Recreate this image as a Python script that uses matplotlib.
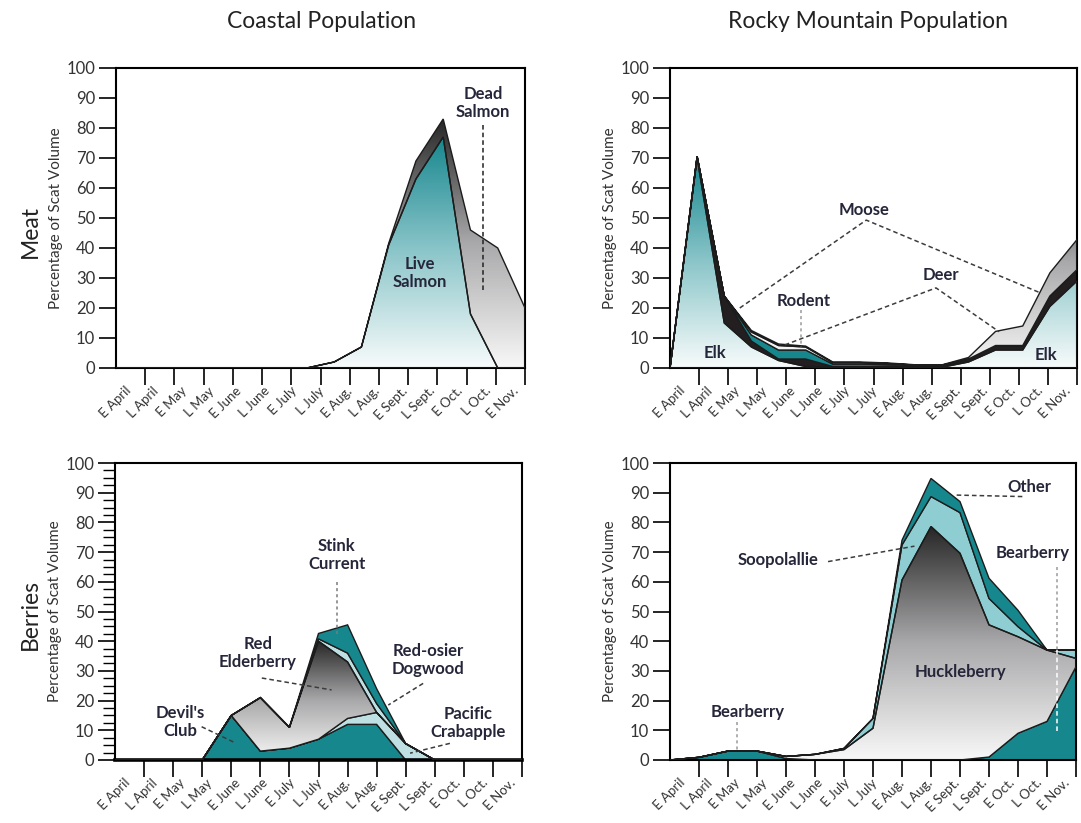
import numpy as np
import matplotlib
matplotlib.use('Agg')
import matplotlib.pyplot as plt
from matplotlib.patches import Polygon
from matplotlib.colors import LinearSegmentedColormap

plt.rcParams['font.family'] = 'Lato'

# Categorias (quinzenas)
months = ['E April', 'L April', 'E May', 'L May', 'E June', 'L June', 'E July',
          'L July', 'E Aug.', 'L Aug.', 'E Sept.', 'L Sept.', 'E Oct.', 'L Oct.', 'E Nov.']

# Costeira - carne (16 pontos no desenho original)
live_salmon = [0, 0, 0, 0, 0, 0, 0, 0, 2, 7, 41, 63, 77, 18, 0, 0]
dead_salmon = [0, 0, 0, 0, 0, 0, 0, 0, 0, 0, 0.5, 6, 6, 28, 40, 20]

# Montanhas Rochosas - carne
elk    = [0, 70, 15, 7, 2.5, 0.5, 0.3, 0.3, 0.3, 0.2, 0.2, 2, 6, 6, 20.5, 29]
moose  = [0, 0.5, 9, 2, 0.5, 2.5, 0.2, 0.2, 0.2, 0.2, 0.2, 1, 1.5, 1.5, 3.5, 3.8]
other_meat = [0, 0, 0, 2, 3, 3, 0.8, 0.8, 0.6, 0.4, 0.3, 0, 0, 0, 0, 0]
rodent = [0, 0, 0, 1, 1.5, 1, 0.5, 0.5, 0.4, 0.2, 0.2, 0, 0, 0, 0, 0]
deer   = [0, 0, 0, 0.5, 0.5, 0.3, 0.2, 0.2, 0.2, 0.1, 0.1, 0.5, 4.7, 6.5, 7.7, 10]

# Costeira - frutos
devils_club   = [0, 0, 0, 0, 15, 3, 4, 7, 12, 12, 0, 0, 0, 0, 0]
crabapple     = [0, 0, 0, 0, 0, 0, 0, 0, 2, 4, 5.5, 0, 0, 0, 0]
elderberry    = [0, 0, 0, 0, 0, 18, 7, 33, 19, 0, 0, 0, 0, 0, 0]
dogwood       = [0, 0, 0, 0, 0, 0, 0, 0.8, 3, 3, 0, 0, 0, 0, 0]
stink_currant = [0, 0, 0, 0, 0, 0, 0, 1.8, 9.5, 5, 0, 0, 0, 0, 0]

# Montanhas Rochosas - frutos
bearberry   = [0, 0.9, 3, 3, 0.5, 0, 0, 0, 0, 0, 0, 1, 9, 13, 31.4]
huckleberry = [0, 0, 0, 0, 0.7, 1.9, 3.5, 10.7, 60.6, 78.6, 69.6, 44.5, 32.5, 24, 2.8]
soopolallie = [0, 0, 0, 0, 0, 0, 0.4, 3.3, 11.8, 10.1, 13.7, 8.9, 3.4, 0, 2.8]
other_berry = [0, 0, 0, 0, 0, 0, 0, 0, 1.6, 6.1, 3.7, 6.8, 5.5, 0, 0]

TEAL = '#17878e'
LBLUE = '#8ecdd2'
PALE = '#bfe0e3'
BLACK = '#231f20'
NAVY = '#26263a'
teal_grad = LinearSegmentedColormap.from_list('tg', ['#f8fbfb', '#8cc6ca', TEAL])
gray_grad = LinearSegmentedColormap.from_list('gg', ['#f8f8f8', '#a9a9ab', '#262626'])


def layer(ax, x, lo, hi, fill):
    verts = np.column_stack([np.r_[x, x[::-1]], np.r_[hi, lo[::-1]]])
    if isinstance(fill, str):
        ax.add_patch(Polygon(verts, closed=True, fc=fill, ec='#1c1c1c', lw=1.0, zorder=2))
    else:
        poly = Polygon(verts, closed=True, fc='none', ec='#1c1c1c', lw=1.0, zorder=3)
        ax.add_patch(poly)
        grad = np.linspace(0, 1, 256).reshape(-1, 1)
        im = ax.imshow(grad, extent=(x[0], x[-1], 0, hi.max()), origin='lower',
                       aspect='auto', cmap=fill, zorder=2, interpolation='bilinear')
        im.set_clip_path(poly)


def stack(ax, x, series, fills):
    lo = np.zeros(len(x))
    for s, f in zip(series, fills):
        hi = lo + np.array(s, dtype=float)
        layer(ax, x, lo, hi, f)
        lo = hi


def setup(ax, minor_y=False):
    ax.set_xlim(0, 14)
    ax.set_ylim(0, 100)
    ax.set_yticks(range(0, 101, 10))
    ax.set_xticks(np.linspace(0.45, 13.7, 15))
    ax.set_xticklabels(months, rotation=45, ha='right', va='center',
                       rotation_mode='anchor', fontsize=9.5, color='#333333')
    ax.set_xticks(np.arange(1, 15), minor=True)
    ax.tick_params(axis='x', which='major', length=0, pad=15)
    ax.tick_params(axis='x', which='minor', length=12, width=1.2)
    ax.tick_params(axis='y', which='major', length=12, width=1.2, labelsize=12,
                   labelcolor='#333333', pad=3)
    if minor_y:
        ax.set_yticks(np.arange(0, 100, 2.5), minor=True)
        ax.tick_params(axis='y', which='minor', length=9, width=1.0)
        ax.spines['bottom'].set_linewidth(2.6)
    for sp in ['left', 'top', 'right']:
        ax.spines[sp].set_linewidth(1.5)
    if not minor_y:
        ax.spines['bottom'].set_linewidth(1.5)
    ax.set_ylabel('Percentage of Scat Volume', fontsize=11, color='#333333')
    ax.yaxis.set_label_coords(-0.13, 0.5)


def note(ax, x, y, s):
    ax.text(x, y, s, ha='center', va='center', fontsize=12, fontweight='bold',
            color=NAVY, linespacing=1.15, zorder=6)


def lead(ax, xs, ys, color='#3c3c3c', ls=(0, (3, 2))):
    ax.plot(xs, ys, color=color, lw=1.1, ls=ls, zorder=5)


fig = plt.figure(figsize=(10.81, 8.23), dpi=100)
W, H = 1081.0, 823.0


def add_ax(l, r, t, b):
    return fig.add_axes([l / W, 1 - b / H, (r - l) / W, (b - t) / H])


ax_tl = add_ax(116, 525, 68, 368)
ax_tr = add_ax(670, 1077, 68, 368)
ax_bl = add_ax(115, 522, 463, 760)
ax_br = add_ax(670, 1076, 463, 760)

x_top = np.linspace(0, 14, 16)
x_bot = np.arange(15)

# Coastal meat
stack(ax_tl, x_top, [live_salmon, dead_salmon], [teal_grad, gray_grad])
note(ax_tl, 12.56, 88.3, 'Dead\nSalmon')
lead(ax_tl, [12.56, 12.56], [81, 26], color='#222222')
note(ax_tl, 10.41, 31.7, 'Live\nSalmon')

# Rocky meat
stack(ax_tr, x_top, [elk, moose, other_meat, rodent, deer],
      [teal_grad, BLACK, TEAL, '#f2f2f2', gray_grad])
note(ax_tr, 6.69, 52.7, 'Moose')
lead(ax_tr, [2.40, 6.75, 12.75], [20, 49.3, 25])
note(ax_tr, 9.32, 31, 'Deer')
lead(ax_tr, [3.95, 9.15, 11.32], [7.7, 26.7, 12.1])
note(ax_tr, 4.6, 22.4, 'Rodent')
lead(ax_tr, [4.52, 4.52], [19.3, 7.1], color='#9a9a9a', ls=(0, (2, 2)))
note(ax_tr, 1.54, 5, 'Elk')
note(ax_tr, 12.93, 4.3, 'Elk')

# Coastal berries
stack(ax_bl, x_bot, [devils_club, crabapple, elderberry, dogwood, stink_currant],
      [TEAL, PALE, gray_grad, PALE, TEAL])
note(ax_bl, 2.24, 12.9, "Devil's\nClub")
lead(ax_bl, [2.98, 4.13], [11.2, 5.8])
note(ax_bl, 4.92, 36, 'Red\nElderberry')
lead(ax_bl, [5.05, 7.45], [27.6, 23.6])
note(ax_bl, 7.63, 69, 'Stink\nCurrent')
lead(ax_bl, [7.63, 7.63], [60, 42.1], color='#7a7a7a', ls=(0, (2, 2)))
note(ax_bl, 10.78, 33.7, 'Red-osier\nDogwood')
lead(ax_bl, [10.6, 9.4], [25.8, 18.5])
note(ax_bl, 12.15, 12.4, 'Pacific\nCrabapple')
lead(ax_bl, [11.52, 10.15], [5.6, 2.3])

# Rocky berries
stack(ax_br, x_bot, [bearberry, huckleberry, soopolallie, other_berry],
      [TEAL, gray_grad, LBLUE, TEAL])
note(ax_br, 2.69, 16.3, 'Bearberry')
lead(ax_br, [2.32, 2.32], [12.9, 3.4], color='#9a9a9a', ls=(0, (2, 2)))
note(ax_br, 3.73, 67.3, 'Soopolallie')
lead(ax_br, [5.45, 8.43], [66.8, 72])
note(ax_br, 12.38, 92, 'Other')
lead(ax_br, [12.15, 9.86], [88.7, 89.2])
note(ax_br, 12.5, 69.6, 'Bearberry')
lead(ax_br, [13.36, 13.36], [65.1, 37], color='#9a9a9a', ls=(0, (2, 2)))
lead(ax_br, [13.36, 13.36], [37, 9.5], color='white', ls=(0, (3, 2)))
note(ax_br, 10.03, 29.7, 'Huckleberry')

setup(ax_tl)
setup(ax_tr)
setup(ax_bl, minor_y=True)
setup(ax_br)

fig.text(322 / W, 1 - 22 / H, 'Coastal Population', ha='center', va='center', fontsize=16.5, color='#222222')
fig.text(868 / W, 1 - 22 / H, 'Rocky Mountain Population', ha='center', va='center', fontsize=16.5, color='#222222')
fig.text(30 / W, 1 - 232 / H, 'Meat', ha='center', va='center', rotation=90, fontsize=16.5, color='#222222')
fig.text(30 / W, 1 - 615 / H, 'Berries', ha='center', va='center', rotation=90, fontsize=16.5, color='#222222')

plt.savefig('out.png', dpi=100)
